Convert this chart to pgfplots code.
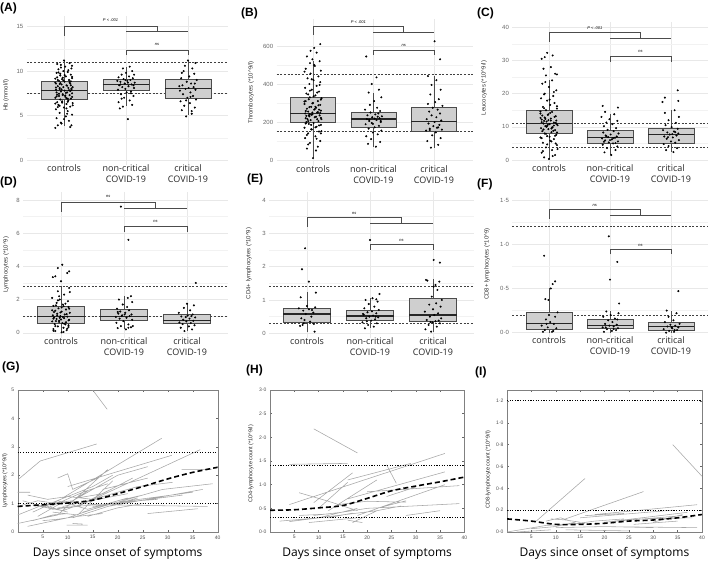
\documentclass[border=0pt]{standalone}
\usepackage{fontspec}
\setmainfont{Open Sans}
\newfontfamily\lib{Liberation Sans}
\usepackage{pgfplots}
\pgfplotsset{compat=1.18}
\usepgfplotslibrary{statistics}

\pgfplotsset{
  bp/.style={
    scale only axis, clip=false, anchor=south west,
    xmin=0.4, xmax=3.65,
    xtick={1,2,3},
    xticklabels={controls,{non-critical\\COVID-19},{critical\\COVID-19}},
    xticklabel style={align=center, font=\fontsize{9}{11}\selectfont, text=black!85, yshift=4pt},
    yticklabel style={font=\lib\fontsize{6}{7}\selectfont, text=black!60},
    ylabel style={font=\lib\fontsize{6}{7}\selectfont, text=black!80, anchor=center},
    axis line style={draw=none},
    major tick length=0pt, minor tick length=0pt,
    grid=both, minor y tick num=1,
    major grid style={black!9, line width=0.45pt},
    minor grid style={black!5, line width=0.3pt},
    /pgf/number format/assume math mode=true,
    boxplot/draw direction=y,
    boxplot/every median/.style={line width=1.1pt, black!85},
  },
  bx/.style={boxplot prepared={#1, box extend=0.75, whisker extend=0},
    fill=gray!38, draw=black!70, line width=0.5pt},
  pts/.style={only marks, mark=*, mark size=0.8pt, black},
  refl/.style={black!75, line width=0.5pt, dash pattern=on 2pt off 1.6pt},
  brk/.style={black!70, line width=0.5pt},
  lp/.style={
    scale only axis, anchor=south west,
    xmin=0, xmax=40, xtick={5,10,...,40},
    axis line style={black!50, line width=0.4pt},
    tick style={black!60, line width=0.4pt},
    major tick length=2pt, tick align=inside, tick pos=both,
    tick label style={font=\lib\fontsize{5}{6}\selectfont, text=black!70},
    ylabel style={font=\lib\fontsize{5.5}{6.5}\selectfont, text=black!85, anchor=center},
    xlabel={Days since onset of symptoms},
    xlabel style={font=\fontsize{12}{14}\selectfont, at={(axis description cs:0.5,-0.148)}, anchor=center},
    /pgf/number format/assume math mode=true,
    unbounded coords=jump,
  },
  spag/.style={black!35, line width=0.55pt},
  trend/.style={black, line width=1.6pt, dash pattern=on 5pt off 3pt, smooth},
  dref/.style={black, line width=1.1pt, dash pattern=on 1.1pt off 1.5pt},
}
\newcommand{\sig}{\lib\itshape\fontsize{4}{5}\selectfont}

\begin{document}
\begin{tikzpicture}
\path[use as bounding box] (0,0) rectangle (709pt,-560pt);

% ---------------- (A) Hb
\begin{axis}[bp, at={(26.8pt,-165.3pt)}, width=201.5pt, height=149.3pt,
  ymin=-0.6, ymax=16.2, ytick={0,5,10,15},
  ylabel={Hb (mmol/l)}, ylabel style={at={(axis description cs:-0.103,0.47)}}]
\addplot[refl] coordinates {(0.4,11)(3.65,11)};
\addplot[refl] coordinates {(0.4,7.5)(3.65,7.5)};
\addplot[bx={draw position=1, median=7.8, lower quartile=6.82, upper quartile=8.81, lower whisker=3.8, upper whisker=11.2}] coordinates {};
\addplot[bx={draw position=2, median=8.5, lower quartile=7.8, upper quartile=9.1, lower whisker=6.1, upper whisker=10.5}] coordinates {};
\addplot[bx={draw position=3, median=8.05, lower quartile=6.9, upper quartile=9.1, lower whisker=5.1, upper whisker=11.2}] coordinates {};
\addplot[pts] coordinates {
(0.86,3.6)(0.90,3.9)(1.12,3.9)(0.95,4.2)(1.08,4.4)(0.88,4.7)(1.03,4.9)(1.13,5.1)(0.93,5.3)(1.06,5.5)
(0.87,5.7)(1.00,5.9)(1.10,6.0)(0.91,6.2)(1.04,6.3)(1.14,6.4)(0.89,6.5)(0.97,6.6)(1.07,6.7)(0.94,6.8)
(1.11,6.9)(0.86,7.0)(1.02,7.1)(0.92,7.2)(1.09,7.3)(0.98,7.4)(1.13,7.5)(0.88,7.6)(1.05,7.6)(0.95,7.7)
(1.01,7.8)(1.12,7.9)(0.87,7.9)(0.93,8.0)(1.07,8.1)(0.99,8.2)(1.14,8.2)(0.90,8.3)(1.04,8.4)(0.96,8.5)
(1.10,8.6)(0.86,8.7)(1.01,8.8)(0.92,8.9)(1.08,9.0)(0.97,9.1)(1.13,9.2)(0.89,9.3)(1.03,9.4)(0.94,9.5)
(1.11,9.6)(0.88,9.8)(1.06,9.9)(0.99,10.0)(0.91,10.2)(1.12,10.3)(1.02,10.5)(0.95,10.7)(1.09,10.9)(1.00,11.2)
(0.93,6.1)(1.06,6.9)(0.98,7.3)(1.11,8.4)(0.90,9.0)(1.04,5.8)(0.87,8.6)(1.13,7.1)(1.00,4.6)(0.94,9.7)};
\addplot[pts] coordinates {
(0.89,7.35)(1.03,7.55)(0.96,7.95)(1.12,8.05)(0.87,8.15)(1.05,8.35)(0.93,8.55)(1.09,8.75)(0.99,8.95)(0.86,9.15)
(1.13,9.35)(1.01,9.55)(0.91,9.85)(1.07,10.1)(0.95,10.4)(1.10,7.75)(0.88,7.15)(1.04,6.95)(0.97,6.45)(1.14,6.15)
(0.90,5.95)(1.06,6.55)(0.92,7.45)(1.11,8.85)(0.98,9.25)(0.86,6.35)(1.02,7.25)(1.08,7.85)(0.94,8.65)(1.13,10.6)
(0.89,10.8)(1.05,5.2)(0.96,4.1)(1.10,3.7)(0.93,8.1)};
\addplot[pts] coordinates {
(2.03,4.6)(1.90,5.8)(1.95,6.0)(2.10,6.2)(1.88,6.5)(2.06,6.7)(1.97,7.0)(2.12,7.2)(1.92,7.4)(2.01,7.6)
(2.08,7.7)(1.87,7.9)(1.99,8.0)(2.13,8.1)(1.94,8.2)(2.04,8.3)(1.89,8.4)(2.09,8.5)(1.98,8.6)(2.14,8.7)
(1.91,8.8)(2.02,8.9)(2.07,9.0)(1.96,9.1)(2.11,9.2)(1.88,9.3)(2.05,9.4)(1.93,9.6)(2.00,9.8)(2.10,10.0)
(1.95,10.3)(2.06,10.5)(1.91,8.5)(2.03,8.7)(2.12,8.4)(1.99,9.0)(1.86,8.9)(2.08,7.5)(1.93,6.9)(2.13,9.6)};
\addplot[pts] coordinates {
(2.97,4.9)(3.06,5.2)(2.90,5.6)(3.11,5.9)(2.94,6.1)(3.03,6.4)(2.88,6.6)(3.13,6.8)(2.99,7.0)(3.08,7.2)
(2.92,7.4)(3.04,7.6)(2.87,7.8)(3.12,7.9)(2.96,8.0)(3.01,8.1)(3.09,8.2)(2.91,8.4)(3.05,8.6)(2.98,8.8)
(3.14,9.0)(2.89,9.2)(3.02,9.4)(3.10,9.7)(2.93,10.0)(3.07,10.3)(2.95,10.6)(3.12,10.9)(3.00,11.2)(2.86,8.3)
(3.04,7.1)(2.97,6.7)(3.11,8.6)(2.90,9.8)(3.06,5.5)};
\addplot[brk] coordinates {(1,14.0)(1,15.1)(2.5,15.1)(2.5,14.45)};
\addplot[brk] coordinates {(2,14.45)(3,14.45)};
\addplot[brk] coordinates {(2,11.8)(2,12.4)(3,12.4)(3,11.8)};
\node[font=\sig] at (axis cs:1.75,15.7) {P < .001};
\node[font=\sig] at (axis cs:2.5,12.95) {ns};
\end{axis}

% ---------------- (B) Thrombocytes
\begin{axis}[bp, at={(276.7pt,-165.7pt)}, width=196.6pt, height=146.3pt,
  ymin=-30, ymax=740, ytick={0,200,400,600},
  ylabel={Thrombocytes (*10\textasciicircum9/l)}, ylabel style={at={(axis description cs:-0.131,0.5)}}]
\addplot[refl] coordinates {(0.4,450)(3.65,450)};
\addplot[refl] coordinates {(0.4,150)(3.65,150)};
\addplot[bx={draw position=1, median=245, lower quartile=198, upper quartile=328, lower whisker=10, upper whisker=521}] coordinates {};
\addplot[bx={draw position=2, median=216, lower quartile=172, upper quartile=249, lower whisker=70, upper whisker=355}] coordinates {};
\addplot[bx={draw position=3, median=205, lower quartile=153, upper quartile=277, lower whisker=65, upper whisker=442}] coordinates {};
\addplot[pts] coordinates {
(1.00,10)(0.90,60)(1.08,70)(0.95,90)(1.12,100)(0.87,115)(1.04,125)(0.92,140)(1.10,150)(0.98,160)
(0.86,170)(1.06,175)(1.13,185)(0.93,190)(1.01,195)(0.89,200)(1.09,205)(0.96,210)(1.14,215)(0.88,220)
(1.03,225)(0.94,230)(1.11,235)(0.99,240)(0.87,245)(1.07,250)(0.92,255)(1.13,260)(1.02,265)(0.90,270)
(1.05,275)(0.97,280)(1.12,290)(0.86,295)(1.00,300)(1.08,310)(0.93,320)(1.14,325)(0.95,330)(1.04,340)
(0.89,350)(1.10,360)(0.98,370)(0.87,380)(1.06,390)(0.94,400)(1.12,410)(1.01,420)(0.91,430)(1.09,440)
(0.96,455)(1.13,470)(0.88,480)(1.03,495)(0.95,510)(1.11,520)(0.99,530)(0.90,545)(1.06,565)(1.02,590)
(1.12,610)(0.93,235)(1.07,215)(0.97,185)(1.10,265)(0.88,310)(1.04,280)(0.92,205)(1.13,140)(0.99,250)};
\addplot[pts] coordinates {
(0.91,215)(1.05,228)(0.97,238)(1.12,248)(0.88,258)(1.03,268)(0.94,278)(1.09,288)(0.99,298)(0.86,308)
(1.13,318)(1.01,335)(0.92,345)(1.07,355)(0.95,365)(1.10,182)(0.88,192)(1.04,172)(0.97,162)(1.14,152)
(0.90,132)(1.06,112)(0.92,82)(1.11,395)(0.98,425)(0.86,465)(1.02,500)(1.08,252)(0.94,242)(1.13,222)
(0.89,232)(1.05,50)(0.96,575)};
\addplot[pts] coordinates {
(2.04,70)(1.91,85)(2.11,95)(1.96,110)(1.88,125)(2.07,135)(1.99,145)(2.13,155)(1.92,165)(2.02,172)
(2.09,180)(1.87,188)(1.97,195)(2.12,200)(1.93,205)(2.05,210)(1.89,215)(2.10,220)(1.98,225)(2.14,230)
(1.90,235)(2.03,240)(2.08,245)(1.95,250)(2.11,258)(1.86,265)(2.06,275)(1.94,290)(2.01,310)(2.13,330)
(1.92,355)(2.09,370)(1.97,400)(2.05,435)(1.88,545)(2.02,218)(1.93,212)(2.12,205)(1.99,190)(2.07,228)};
\addplot[pts] coordinates {
(2.95,65)(3.07,80)(2.89,100)(3.11,115)(2.97,130)(3.03,145)(2.87,155)(3.13,160)(2.93,165)(3.05,170)
(2.99,178)(3.09,185)(2.91,192)(3.01,200)(3.12,208)(2.88,215)(3.04,225)(2.96,235)(3.10,245)(2.92,255)
(3.06,265)(2.98,275)(3.14,285)(2.90,295)(3.02,305)(3.08,320)(2.94,345)(3.11,370)(2.96,395)(3.04,420)
(2.90,442)(3.10,530)(3.01,625)(2.93,158)(3.07,172)};
\addplot[brk] coordinates {(1,658)(1,705)(2.5,705)(2.5,675)};
\addplot[brk] coordinates {(2,675)(3,675)};
\addplot[brk] coordinates {(2,553)(2,579)(3,579)(3,553)};
\node[font=\sig] at (axis cs:1.75,728) {P < .001};
\node[font=\sig] at (axis cs:2.5,603) {ns};
\end{axis}

% ---------------- (C) Leucocytes
\begin{axis}[bp, at={(512.4pt,-165pt)}, width=195.2pt, height=142.7pt, xmax=3.6,
  ymin=-1.5, ymax=41.5, ytick={0,10,20,30,40},
  ylabel={Leucocytes (*10\textasciicircum9/l)}, ylabel style={at={(axis description cs:-0.145,0.54)}}]
\addplot[refl] coordinates {(0.4,11)(3.6,11)};
\addplot[refl] coordinates {(0.4,4)(3.6,4)};
\addplot[bx={draw position=1, median=11.05, lower quartile=8.2, upper quartile=14.9, lower whisker=0.3, upper whisker=24}] coordinates {};
\addplot[bx={draw position=2, median=6.8, lower quartile=5.0, upper quartile=9.0, lower whisker=1.5, upper whisker=14}] coordinates {};
\addplot[bx={draw position=3, median=7.6, lower quartile=5.2, upper quartile=9.5, lower whisker=2.4, upper whisker=15}] coordinates {};
\addplot[pts] coordinates {
(1.00,0.3)(0.92,0.8)(1.10,1.5)(0.88,2.2)(1.05,3.0)(0.95,3.8)(1.13,4.5)(0.90,5.2)(1.02,5.8)(1.08,6.3)
(0.86,6.8)(0.97,7.2)(1.12,7.6)(0.93,8.0)(1.04,8.4)(0.89,8.7)(1.10,9.0)(0.99,9.3)(0.87,9.6)(1.06,9.9)
(0.94,10.2)(1.14,10.5)(1.01,10.8)(0.91,11.0)(1.08,11.3)(0.96,11.6)(1.12,11.9)(0.88,12.2)(1.03,12.5)(0.93,12.8)
(1.11,13.2)(0.98,13.6)(0.86,14.0)(1.05,14.5)(0.95,15.0)(1.13,15.5)(0.90,16.0)(1.02,16.6)(1.09,17.2)(0.97,17.9)
(0.87,18.6)(1.07,19.3)(0.93,20.0)(1.12,21.0)(1.00,22.0)(0.89,23.0)(1.05,24.0)(0.95,25.5)(1.10,26.0)(0.91,27.5)
(1.03,28.0)(0.88,30.5)(0.93,31.0)(1.06,31.5)(0.97,32.3)(1.08,10.4)(0.92,11.8)(1.04,9.5)(0.99,12.0)(1.13,8.3)
(0.89,13.4)(1.01,7.0)(0.96,10.0)(1.11,5.0)};
\addplot[pts] coordinates {
(0.91,9.2)(1.05,9.8)(0.97,10.3)(1.12,10.9)(0.88,11.4)(1.03,11.9)(0.94,12.4)(1.09,13.0)(0.99,13.8)(0.86,14.6)
(1.13,16.2)(1.01,18.2)(0.92,19.8)(1.07,8.8)(0.95,7.9)(1.10,7.3)(0.88,6.6)(1.04,5.6)(0.97,4.7)(1.14,3.3)
(0.90,2.7)(1.06,1.2)(0.92,15.6)(1.11,11.2)(0.98,10.6)(0.86,12.7)(1.02,14.2)(1.08,20.5)(0.94,23.5)(1.13,25.8)};
\addplot[pts] coordinates {
(2.02,1.5)(1.91,2.3)(2.09,3.0)(1.95,3.6)(2.12,4.1)(1.88,4.6)(2.05,5.0)(1.98,5.3)(2.13,5.6)(1.92,5.9)
(2.03,6.2)(1.87,6.5)(2.08,6.7)(1.97,6.9)(2.11,7.1)(1.93,7.4)(2.01,7.7)(2.14,8.0)(1.89,8.3)(2.06,8.7)
(1.96,9.1)(2.10,9.6)(1.90,10.2)(2.04,10.8)(1.94,11.3)(2.12,11.8)(1.99,12.3)(1.86,13.0)(2.07,13.8)(1.92,14.5)
(2.13,15.8)(1.88,16.3)(2.00,6.0)(2.09,5.1)(1.94,7.2)(2.05,6.6)(1.90,5.5)};
\addplot[pts] coordinates {
(3.04,2.4)(2.92,3.0)(3.10,3.6)(2.96,4.2)(2.88,4.8)(3.07,5.2)(3.00,5.6)(3.13,6.0)(2.93,6.4)(3.03,6.8)
(2.89,7.1)(3.09,7.4)(2.98,7.7)(3.12,8.0)(2.94,8.3)(3.05,8.6)(2.87,9.0)(3.11,9.4)(3.01,9.9)(2.91,10.5)
(3.08,11.2)(2.96,12.0)(3.13,13.0)(2.90,14.2)(3.06,15.0)(2.86,17.5)(2.90,18.8)(3.12,17.8)(3.11,21.0)(3.02,7.8)
(2.95,6.9)(3.07,8.4)};
\addplot[brk] coordinates {(1,35.7)(1,38.4)(2.5,38.4)(2.5,36.6)};
\addplot[brk] coordinates {(2,36.6)(3,36.6)};
\addplot[brk] coordinates {(2,29.6)(2,31.2)(3,31.2)(3,29.6)};
\node[font=\sig] at (axis cs:1.75,39.8) {P < .001};
\node[font=\sig] at (axis cs:2.5,32.6) {ns};
\end{axis}

% ---------------- (D) Lymphocytes
\begin{axis}[bp, at={(23.2pt,-337.7pt)}, width=204.75pt, height=146pt,
  ymin=-0.3, ymax=8.5, ytick={0,2,4,6,8},
  ylabel={Lymphocytes (*10\textasciicircum9)}, ylabel style={at={(axis description cs:-0.084,0.5)}}]
\addplot[refl] coordinates {(0.4,2.8)(3.65,2.8)};
\addplot[refl] coordinates {(0.4,1.0)(3.65,1.0)};
\addplot[bx={draw position=1, median=0.98, lower quartile=0.6, upper quartile=1.57, lower whisker=0.0, upper whisker=2.8}] coordinates {};
\addplot[bx={draw position=2, median=1.0, lower quartile=0.75, upper quartile=1.4, lower whisker=0.2, upper whisker=2.23}] coordinates {};
\addplot[bx={draw position=3, median=0.76, lower quartile=0.56, upper quartile=1.12, lower whisker=0.1, upper whisker=1.77}] coordinates {};
\addplot[pts] coordinates {
(1.01,0.02)(0.91,0.1)(1.09,0.15)(0.88,0.22)(1.04,0.3)(0.95,0.38)(1.12,0.45)(0.90,0.52)(1.02,0.58)(1.08,0.63)
(0.86,0.68)(0.97,0.72)(1.13,0.78)(0.93,0.83)(1.05,0.88)(0.89,0.92)(1.10,0.97)(0.99,1.0)(0.87,1.05)(1.06,1.1)
(0.94,1.15)(1.14,1.2)(1.01,1.27)(0.91,1.33)(1.08,1.4)(0.96,1.47)(1.12,1.55)(0.88,1.62)(1.03,1.7)(0.93,1.8)
(1.11,1.9)(0.98,2.0)(0.86,2.1)(1.05,2.3)(0.95,2.5)(1.13,2.7)(1.00,3.1)(0.87,3.35)(0.91,3.4)(1.10,3.6)
(1.13,3.7)(0.95,3.9)(1.02,4.1)(1.07,0.5)(0.92,0.7)(1.04,1.6)(0.98,0.9)(1.12,0.35)(0.89,1.25)(1.00,0.8)};
\addplot[pts] coordinates {
(0.91,0.4)(1.05,0.55)(0.97,0.65)(1.12,0.75)(0.88,0.85)(1.03,0.95)(0.94,1.05)(1.09,1.12)(0.99,1.22)(0.86,1.35)
(1.13,1.45)(1.01,1.52)(0.92,1.65)(1.07,1.75)(0.95,1.95)(1.10,0.25)(0.88,0.12)(1.04,0.05)(0.97,2.2)(1.14,2.45)};
\addplot[pts] coordinates {
(2.03,0.2)(1.90,0.28)(2.11,0.33)(1.95,0.4)(2.07,0.5)(1.88,0.6)(1.99,0.7)(2.13,0.78)(1.93,0.85)(2.04,0.9)
(1.87,0.95)(2.09,1.0)(1.97,1.05)(2.12,1.1)(1.91,1.15)(2.02,1.2)(1.94,1.28)(2.08,1.35)(1.89,1.45)(2.05,1.55)
(1.98,1.7)(2.13,1.85)(1.92,2.0)(2.06,2.1)(2.11,2.2)(1.96,1.0)(2.01,1.1)(1.90,1.25)(2.07,0.3)(2.14,0.4)
(2.07,5.6)(1.95,7.6)};
\addplot[pts] coordinates {
(2.96,0.1)(3.08,0.2)(2.90,0.3)(3.03,0.38)(3.12,0.45)(2.93,0.52)(3.06,0.58)(2.88,0.62)(2.99,0.68)(3.10,0.72)
(2.94,0.78)(3.04,0.85)(3.13,0.92)(2.91,0.98)(3.01,1.03)(3.09,1.1)(2.87,1.2)(3.05,1.35)(2.95,1.5)(3.11,1.65)
(3.00,1.75)(3.14,3.0)(2.98,0.95)(3.07,1.0)};
\addplot[brk] coordinates {(1,7.3)(1,7.84)(2.5,7.84)(2.5,7.5)};
\addplot[brk] coordinates {(2,7.5)(3,7.5)};
\addplot[brk] coordinates {(2,6.1)(2,6.43)(3,6.43)(3,6.1)};
\node[font=\sig] at (axis cs:1.75,8.22) {ns};
\node[font=\sig] at (axis cs:2.5,6.7) {ns};
\end{axis}

% ---------------- (E) CD4+
\begin{axis}[bp, at={(269.2pt,-338.3pt)}, width=204.75pt, height=146.7pt,
  ymin=-0.15, ymax=4.25, ytick={0,1,2,3,4},
  ylabel={CD4+ lymphocytes (*10\textasciicircum9)}, ylabel style={at={(axis description cs:-0.099,0.51)}}]
\addplot[refl] coordinates {(0.4,1.4)(3.65,1.4)};
\addplot[refl] coordinates {(0.4,0.3)(3.65,0.3)};
\addplot[bx={draw position=1, median=0.58, lower quartile=0.32, upper quartile=0.75, lower whisker=0.05, upper whisker=1.25}] coordinates {};
\addplot[bx={draw position=2, median=0.52, lower quartile=0.4, upper quartile=0.7, lower whisker=0.15, upper whisker=1.05}] coordinates {};
\addplot[bx={draw position=3, median=0.55, lower quartile=0.35, upper quartile=1.05, lower whisker=0.05, upper whisker=1.62}] coordinates {};
\addplot[pts] coordinates {
(1.12,0.05)(0.89,0.22)(0.93,0.25)(0.95,0.3)(1.05,0.35)(0.91,0.45)(1.07,0.5)(0.98,0.58)(1.10,0.62)(0.94,0.68)
(1.03,0.72)(0.87,0.75)(1.13,0.78)(1.00,0.82)(0.90,1.08)(1.14,1.22)(1.03,1.55)(0.92,1.92)(0.97,2.55)(1.08,0.7)
(0.96,0.4)(1.11,0.28)};
\addplot[pts] coordinates {
(1.92,0.15)(2.06,0.2)(1.97,0.25)(2.11,0.3)(1.88,0.33)(2.02,0.38)(2.08,0.42)(1.94,0.45)(2.13,0.48)(1.99,0.5)
(2.05,0.53)(1.90,0.56)(2.10,0.6)(1.96,0.63)(2.03,0.66)(2.14,0.7)(1.91,0.75)(2.07,0.8)(1.98,0.88)(2.12,0.95)
(1.93,1.0)(2.04,1.05)(2.10,1.02)(2.15,1.18)(2.00,2.8)(1.95,0.36)(2.09,0.5)(1.89,0.58)};
\addplot[pts] coordinates {
(2.97,0.05)(2.88,0.12)(3.06,0.2)(2.93,0.25)(3.11,0.3)(2.99,0.33)(3.04,0.36)(2.90,0.4)(3.13,0.45)(2.95,0.5)
(3.02,0.55)(3.08,0.6)(2.87,0.65)(3.00,0.72)(3.12,0.8)(2.94,0.86)(3.05,0.9)(3.14,1.0)(2.98,1.1)(3.07,1.3)
(3.01,1.4)(3.04,1.45)(2.89,1.6)(2.91,1.58)(3.10,1.55)(3.01,2.2)(3.11,2.12)(2.96,0.34)(3.09,0.38)};
\addplot[brk] coordinates {(1,3.2)(1,3.47)(2.5,3.47)(2.5,3.3)};
\addplot[brk] coordinates {(2,3.3)(3,3.3)};
\addplot[brk] coordinates {(2,2.5)(2,2.67)(3,2.67)(3,2.5)};
\node[font=\sig] at (axis cs:1.75,3.6) {ns};
\node[font=\sig] at (axis cs:2.5,2.8) {ns};
\end{axis}

% ---------------- (F) CD8+
\begin{axis}[bp, at={(512.4pt,-337.1pt)}, width=195.2pt, height=145.9pt, xmax=3.6,
  ymin=-0.05, ymax=1.6, ytick={0,0.5,1,1.5},
  yticklabel style={/pgf/number format/.cd, fixed, fixed zerofill, precision=1, set decimal separator={·}},
  ylabel={CD8+ lymphocytes (*10\textasciicircum9)}, ylabel style={at={(axis description cs:-0.13,0.5)}}]
\addplot[refl] coordinates {(0.4,1.2)(3.6,1.2)};
\addplot[refl] coordinates {(0.4,0.2)(3.6,0.2)};
\addplot[bx={draw position=1, median=0.105, lower quartile=0.04, upper quartile=0.226, lower whisker=0.0, upper whisker=0.5}] coordinates {};
\addplot[bx={draw position=2, median=0.083, lower quartile=0.05, upper quartile=0.15, lower whisker=0.0, upper whisker=0.25}] coordinates {};
\addplot[bx={draw position=3, median=0.068, lower quartile=0.023, upper quartile=0.113, lower whisker=0.0, upper whisker=0.25}] coordinates {};
\addplot[pts] coordinates {
(0.90,0.01)(1.05,0.01)(0.93,0.03)(1.12,0.05)(0.98,0.06)(0.88,0.08)(1.08,0.1)(1.02,0.12)(0.95,0.15)(1.10,0.18)
(1.00,0.2)(1.14,0.23)(0.94,0.38)(0.99,0.37)(1.06,0.55)(1.10,0.58)(1.03,0.5)(0.92,0.87)(1.07,0.02)(0.96,0.1)};
\addplot[pts] coordinates {
(1.90,0.01)(2.03,0.02)(2.10,0.03)(1.95,0.04)(2.13,0.05)(1.88,0.06)(2.06,0.07)(1.99,0.08)(2.11,0.09)(1.92,0.1)
(2.04,0.12)(1.97,0.14)(2.08,0.16)(1.89,0.18)(2.01,0.2)(2.14,0.22)(1.94,0.24)(2.12,0.15)(1.98,1.09)(2.12,0.8)
(2.00,0.6)(2.15,0.33)(2.06,0.04)(1.93,0.06)};
\addplot[pts] coordinates {
(2.92,0.0)(3.05,0.01)(2.97,0.02)(3.10,0.03)(2.88,0.04)(3.02,0.05)(3.12,0.06)(2.94,0.07)(3.07,0.08)(2.99,0.09)
(3.14,0.1)(2.90,0.12)(3.04,0.14)(2.96,0.18)(3.09,0.22)(2.93,0.25)(3.12,0.47)(3.01,0.06)(3.06,0.03)};
\addplot[brk] coordinates {(1,1.29)(1,1.395)(2.5,1.395)(2.5,1.33)};
\addplot[brk] coordinates {(2,1.33)(3,1.33)};
\addplot[brk] coordinates {(2,0.886)(2,0.94)(3,0.94)(3,0.886)};
\node[font=\sig] at (axis cs:1.75,1.44) {ns};
\node[font=\sig] at (axis cs:2.5,0.99) {ns};
\end{axis}

% ---------------- (G) Lymphocytes over time
\begin{axis}[lp, at={(17.7pt,-532pt)}, width=200pt, height=142pt,
  ymin=0, ymax=5, ytick={0,1,2,3,4,5},
  ylabel={Lymphocytes (*10\textasciicircum9/l)}, ylabel style={at={(axis description cs:-0.064,0.36)}}]
\addplot[spag] coordinates {
(15,5.0)(17.9,4.32) (nan,nan) (0.1,1.85)(4.5,2.5)(15.8,3.1) (nan,nan) (9,1.2)(28.8,3.3) (nan,nan)
(12,0.9)(36.5,2.9) (nan,nan) (10,1.6)(30.8,2.7) (nan,nan) (32.8,2.2)(38.8,2.2) (nan,nan) (26,0.65)(36,0.82) (nan,nan)
(9.8,0.24)(14,0.24) (nan,nan) (0,1.4)(2.5,1.4) (nan,nan) (2,0.2)(10,0.5)(20,1.1)(25,1.3) (nan,nan)
(0,0.3)(8,0.6)(18,2.2) (nan,nan) (5,0.9)(15,1.6)(19,2.0) (nan,nan) (8,1.9)(10,2.05)(11,1.5)(16,1.9) (nan,nan)
(6,0.85)(13,1.4)(18,1.7) (nan,nan) (3,0.7)(8,1.1)(14,0.8)(22,1.2) (nan,nan) (10,1.0)(20,2.0)(26,2.3) (nan,nan)
(14,1.1)(24,1.6)(31,1.75) (nan,nan) (16,0.85)(29,1.5)(39,1.7) (nan,nan) (18,0.9)(37,1.5) (nan,nan)
(20,0.95)(38,0.9) (nan,nan) (13,0.7)(20,1.05)(28,1.15) (nan,nan) (1,1.1)(7,0.8)(12,0.9) (nan,nan)
(4,0.55)(9,1.05)(17,0.95) (nan,nan) (11,0.5)(18,0.9)(24,1.2) (nan,nan) (7,0.7)(12,0.6)(16,1.3)(19,1.8) (nan,nan)
(2,1.3)(6,1.15)(10,1.25)(15,1.15) (nan,nan) (0,0.6)(5,0.95)(10,0.7) (nan,nan) (3,0.95)(9,0.75)(13,1.0)(18,1.45) (nan,nan)
(8,0.85)(15,0.95)(21,1.0) (nan,nan) (12,1.2)(17,1.35)(23,1.9) (nan,nan) (14,0.55)(20,0.85)(25,1.0) (nan,nan)
(5,0.4)(8,0.45)(12,0.55)(17,0.65) (nan,nan) (11,0.3)(13,0.28) (nan,nan) (20,1.05)(35,1.4) (nan,nan)
(15,0.9)(33,1.3) (nan,nan) (6,1.0)(11,1.1)(14,1.45) (nan,nan) (9,0.9)(16,1.15)(22,1.35) (nan,nan)
(0,0.9)(4,1.1)(8,1.0) (nan,nan) (3,0.4)(7,0.6)(10,0.65) (nan,nan) (17,1.5)(26,1.9)};
\addplot[dref] coordinates {(0,2.8)(40,2.8)};
\addplot[dref] coordinates {(0,1.0)(40,1.0)};
\addplot[trend] coordinates {(0,0.9)(5,0.96)(10,1.02)(15,1.12)(20,1.35)(25,1.6)(30,1.87)(35,2.1)(40,2.28)};
\end{axis}

% ---------------- (H) CD4 over time
\begin{axis}[lp, at={(270pt,-532pt)}, width=194.3pt, height=142pt,
  ymin=0, ymax=3, ytick={0,0.5,1,1.5,2,2.5,3},
  yticklabel style={/pgf/number format/.cd, fixed, fixed zerofill, precision=1, set decimal separator={·}},
  ylabel={CD4-lymphocyte count (*10\textasciicircum9/l)}, ylabel style={at={(axis description cs:-0.098,0.48)}}]
\addplot[spag] coordinates {
(9,2.18)(18,1.67) (nan,nan) (4,1.43)(16,1.45) (nan,nan) (24,1.42)(26,1.03) (nan,nan) (4,0.58)(36,1.66) (nan,nan)
(16,1.1)(29,1.45) (nan,nan) (9,0.62)(17,1.25) (nan,nan) (10,0.5)(16,1.05) (nan,nan) (12,0.45)(22,1.1) (nan,nan)
(6,0.83)(12,0.65)(18,0.45) (nan,nan) (14,0.58)(20,0.65)(28,0.63) (nan,nan) (20,0.85)(39,0.98) (nan,nan)
(16,0.7)(36,1.27) (nan,nan) (18,0.35)(36,1.0) (nan,nan) (22,0.5)(28,0.66) (nan,nan) (2,0.23)(10,0.3)(18,0.5) (nan,nan)
(4,0.22)(14,0.35)(22,0.45) (nan,nan) (8,0.2)(18,0.3) (nan,nan) (16,0.25)(19,0.2) (nan,nan) (17,0.2)(22,0.45)(27,0.55) (nan,nan)
(20,0.5)(39,0.6) (nan,nan) (28,0.35)(35,0.45) (nan,nan) (9,0.35)(15,0.42)(20,0.5) (nan,nan) (12,0.3)(17,0.4) (nan,nan)
(24,0.75)(30,0.95) (nan,nan) (6,0.35)(12,0.38)};
\addplot[dref] coordinates {(0,1.4)(40,1.4)};
\addplot[dref] coordinates {(0,0.3)(40,0.3)};
\addplot[trend] coordinates {(0,0.46)(5,0.47)(10,0.51)(15,0.56)(20,0.71)(25,0.87)(30,0.97)(35,1.06)(40,1.16)};
\end{axis}

% ---------------- (I) CD8 over time
\begin{axis}[lp, at={(507pt,-532pt)}, width=195pt, height=142pt,
  ymin=0, ymax=1.3, ytick={0,0.2,0.4,0.6,0.8,1.0,1.2},
  yticklabel style={/pgf/number format/.cd, fixed, fixed zerofill, precision=1, set decimal separator={·}},
  ylabel={CD8-lymphocyte count (*10\textasciicircum9/l)}, ylabel style={at={(axis description cs:-0.097,0.44)}}]
\addplot[spag] coordinates {
(34,0.8)(40,0.51) (nan,nan) (6,0.1)(16,0.49) (nan,nan) (12,0.12)(28,0.37) (nan,nan) (18,0.16)(39,0.25) (nan,nan)
(15,0.13)(34,0.2) (nan,nan) (0,0.0)(8,0.06)(16,0.08) (nan,nan) (9,0.12)(12,0.11)(15,0.09) (nan,nan)
(10,0.04)(20,0.05)(30,0.04) (nan,nan) (18,0.05)(39,0.04) (nan,nan) (20,0.09)(36,0.15) (nan,nan) (12,0.02)(25,0.01) (nan,nan)
(5,0.03)(10,0.05)(14,0.09) (nan,nan) (13,0.07)(18,0.1)(24,0.12) (nan,nan) (22,0.1)(37,0.18) (nan,nan) (26,0.07)(35,0.1) (nan,nan)
(2,0.0)(9,0.02) (nan,nan) (16,0.15)(24,0.17) (nan,nan) (8,0.1)(11,0.13)(13,0.1) (nan,nan) (28,0.12)(38,0.13) (nan,nan)
(30,0.09)(36,0.16)};
\addplot[dref] coordinates {(0,1.2)(40,1.2)};
\addplot[dref] coordinates {(0,0.2)(40,0.2)};
\addplot[trend] coordinates {(0,0.12)(5,0.1)(10,0.07)(15,0.07)(20,0.08)(25,0.1)(30,0.11)(35,0.13)(40,0.16)};
\end{axis}

% panel letters
\begin{scope}[every node/.style={font=\lib\bfseries\fontsize{12}{14}\selectfont, anchor=west, inner sep=0pt}]
\node at (0pt,-8.5pt) {(A)};
\node at (241pt,-13pt) {(B)};
\node at (477pt,-13pt) {(C)};
\node at (0pt,-182pt) {(D)};
\node at (247pt,-179pt) {(E)};
\node at (477pt,-184pt) {(F)};
\node at (2pt,-367pt) {(G)};
\node at (246pt,-370pt) {(H)};
\node at (475pt,-372pt) {(I)};
\end{scope}
\end{tikzpicture}
\end{document}
